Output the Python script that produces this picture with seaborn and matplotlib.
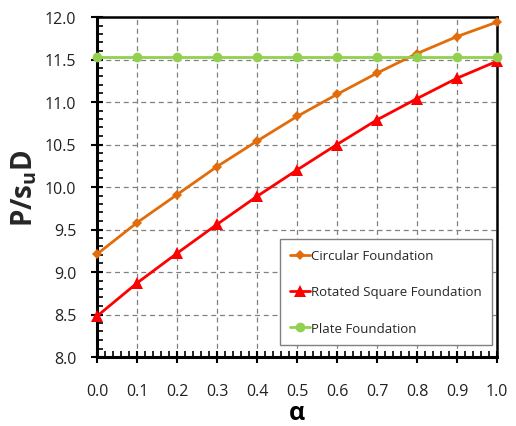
import matplotlib
matplotlib.use("Agg")
import matplotlib.pyplot as plt
import seaborn as sns
import pandas as pd
from matplotlib.ticker import MultipleLocator, FormatStrFormatter

alpha = [0.0, 0.1, 0.2, 0.3, 0.4, 0.5, 0.6, 0.7, 0.8, 0.9, 1.0]
circular = [9.21, 9.58, 9.91, 10.24, 10.54, 10.83, 11.09, 11.34, 11.57, 11.77, 11.94]
rotated_square = [8.48, 8.87, 9.22, 9.56, 9.89, 10.20, 10.50, 10.79, 11.04, 11.28, 11.48]
plate = [11.53] * 11
series_names = ["Circular Foundation", "Rotated Square Foundation", "Plate Foundation"]

df = pd.concat([
    pd.DataFrame({"alpha": alpha, "P": circular, "series": series_names[0]}),
    pd.DataFrame({"alpha": alpha, "P": rotated_square, "series": series_names[1]}),
    pd.DataFrame({"alpha": alpha, "P": plate, "series": series_names[2]}),
])

sns.set_theme(style="white")
plt.rcParams['font.family'] = ['Open Sans', 'DejaVu Sans']
plt.rcParams['mathtext.fontset'] = 'custom'
plt.rcParams['mathtext.rm'] = 'Open Sans'
plt.rcParams['mathtext.bf'] = 'Open Sans:bold'
plt.rcParams['mathtext.it'] = 'Open Sans:italic'

fig = plt.figure(figsize=(5.16, 4.27), dpi=100)
ax = fig.add_axes([97/516, 1 - 358/427, 400/516, 340/427])

palette = {series_names[0]: "#E36C0A", series_names[1]: "#FF0000", series_names[2]: "#92D050"}
markers = {series_names[0]: "D", series_names[1]: "^", series_names[2]: "o"}
sizes_m = {series_names[0]: 5.5, series_names[1]: 8, series_names[2]: 7}

for name in series_names:
    sub = df[df["series"] == name]
    sns.lineplot(data=sub, x="alpha", y="P", ax=ax, color=palette[name],
                 marker=markers[name], markersize=sizes_m[name],
                 markeredgewidth=0, linewidth=2, label=name, clip_on=False, zorder=3)

ax.set_xlim(0, 1.0)
ax.set_ylim(8.0, 12.0)
ax.xaxis.set_major_locator(MultipleLocator(0.1))
ax.xaxis.set_minor_locator(MultipleLocator(0.02))
ax.yaxis.set_major_locator(MultipleLocator(0.5))
ax.yaxis.set_minor_locator(MultipleLocator(0.1))
ax.xaxis.set_major_formatter(FormatStrFormatter('%.1f'))
ax.yaxis.set_major_formatter(FormatStrFormatter('%.1f'))

ax.grid(True, which="major", linestyle=(0, (4, 3)), color="#808080", linewidth=0.9)
ax.set_axisbelow(True)

for s in ax.spines.values():
    s.set_color("black")
    s.set_linewidth(1.8)
ax.spines["left"].set_linewidth(2.2)
ax.spines["bottom"].set_linewidth(2.2)

ax.tick_params(axis="both", which="major", direction="inout", length=8, width=1.5,
               labelsize=11.5, colors="black")
ax.tick_params(axis="both", which="minor", direction="in", length=4, width=1.2, colors="black")
ax.tick_params(axis="x", which="both", top=False, bottom=True)
ax.tick_params(axis="x", which="major", pad=15)
ax.tick_params(axis="y", which="both", left=True, right=False)
ax.tick_params(axis="y", which="major", pad=11)
for lab in ax.get_xticklabels() + ax.get_yticklabels():
    lab.set_color("#222222")

ax.set_xlabel("")
fig.text(297/516, 1 - 414/427, "α", fontsize=18, fontweight="bold",
         ha="center", va="center", color="black")
ax.set_ylabel(r"$\mathbf{P/s_{u}D}$", fontsize=20, labelpad=4)

leg = ax.legend(loc="lower right", bbox_to_anchor=(0.9875, 0.035), fontsize=9.5,
                frameon=True, fancybox=False, edgecolor="#808080",
                labelspacing=1.75, handlelength=1.5, handletextpad=0.05,
                borderpad=0.8, borderaxespad=0.0)
leg.get_frame().set_linewidth(1.0)
leg.get_frame().set_facecolor("white")
leg.get_frame().set_alpha(1)

fig.savefig("out.png", dpi=100)
